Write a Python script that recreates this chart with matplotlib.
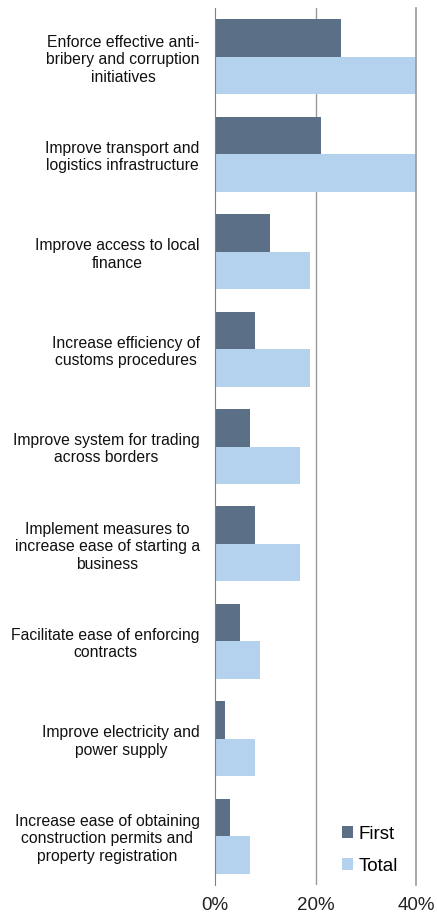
import matplotlib.pyplot as plt
import numpy as np

plt.rcParams['font.family'] = ['Liberation Sans', 'DejaVu Sans']

labels = [
    'Enforce effective anti-\nbribery and corruption\ninitiatives',
    'Improve transport and\nlogistics infrastructure',
    'Improve access to local\nfinance',
    'Increase efficiency of\ncustoms procedures',
    'Improve system for trading\nacross borders',
    'Implement measures to\nincrease ease of starting a\nbusiness',
    'Facilitate ease of enforcing\ncontracts',
    'Improve electricity and\npower supply',
    'Increase ease of obtaining\nconstruction permits and\nproperty registration',
]
first = [25, 21, 11, 8, 7, 8, 5, 2, 3]
total = [40, 40, 19, 19, 17, 17, 9, 8, 7]

c_first = '#5b7086'
c_total = '#b4d1ee'

fig = plt.figure(figsize=(4.37, 9.17), dpi=100)
ax = fig.add_axes([0.492, 0.035, 0.46, 0.956])

y = np.arange(len(labels))
h = 0.385
ax.barh(y - h / 2, first, height=h, color=c_first, label='First', zorder=2)
ax.barh(y + h / 2, total, height=h, color=c_total, label='Total', zorder=2)

ax.set_xlim(0, 40)
ax.set_ylim(len(labels) - 0.5, -0.5)
ax.set_xticks([0, 20, 40])
ax.set_xticklabels(['0%', '20%', '40%'], fontsize=13.5, color='#222222')
ax.set_yticks(y)
ax.set_yticklabels(labels, fontsize=11.3, multialignment='center',
                   linespacing=1.2, color='#111111')
ax.tick_params(axis='y', length=0, pad=11)
ax.tick_params(axis='x', length=0, pad=9)

ax.axvline(20, color='#9a9a9a', lw=1, zorder=1)
ax.axvline(40, color='#9a9a9a', lw=1.2, zorder=3, clip_on=False)
for s in ['top', 'right', 'bottom']:
    ax.spines[s].set_visible(False)
ax.spines['left'].set_color('#808080')

ax.legend(loc='lower right', bbox_to_anchor=(0.995, -0.008), frameon=False, fontsize=13.5,
          handlelength=0.6, handleheight=0.6, handletextpad=0.3, labelspacing=0.82)

fig.savefig('out.png', dpi=100)
